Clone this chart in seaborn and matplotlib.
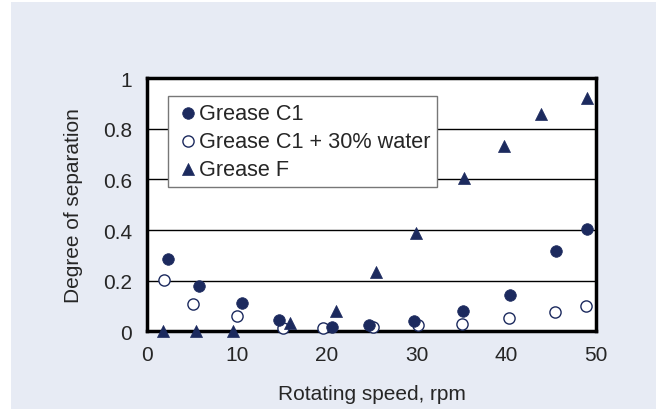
import matplotlib
matplotlib.use("Agg")
import matplotlib.pyplot as plt
import seaborn as sns
import pandas as pd
from matplotlib.patches import Rectangle

# Data
c1_speed = [2.3, 5.8, 10.6, 14.7, 20.6, 24.7, 29.7, 35.2, 40.4, 45.6, 49.0]
c1_sep = [0.286, 0.178, 0.113, 0.044, 0.019, 0.025, 0.041, 0.082, 0.144, 0.318, 0.405]

c1w_speed = [1.9, 5.1, 10.0, 15.1, 19.6, 25.1, 30.2, 35.1, 40.3, 45.4, 48.9]
c1w_sep = [0.202, 0.110, 0.060, 0.012, 0.012, 0.019, 0.025, 0.031, 0.054, 0.078, 0.102]

f_speed = [1.8, 5.4, 9.5, 15.9, 21.0, 25.5, 30.0, 35.3, 39.7, 43.9, 49.0]
f_sep = [0.0, 0.0, 0.0, 0.033, 0.079, 0.233, 0.387, 0.604, 0.733, 0.858, 0.923]

labels = ["Grease C1", "Grease C1 + 30% water", "Grease F"]
x_ticks = [0, 10, 20, 30, 40, 50]
y_ticks = [0, 0.2, 0.4, 0.6, 0.8, 1]
y_ticklabels = ["0", "0.2", "0.4", "0.6", "0.8", "1"]

navy = "#1c2a5e"
bg = "#e7ebf4"
FS = 15

sns.set_style("white")
plt.rcParams["font.family"] = ["Liberation Sans", "DejaVu Sans"]

fig = plt.figure(figsize=(6.56, 4.10), dpi=100)
fig.patch.set_facecolor("white")
fig.patches.append(Rectangle((11 / 656, 0), 1 - 11 / 656, 1 - 3 / 410,
                             transform=fig.transFigure, facecolor=bg,
                             edgecolor="none", zorder=-10))

ax = fig.add_axes([0.2245, 0.1893, 0.684, 0.618])
ax.set_facecolor("white")

df_c1 = pd.DataFrame({"speed": c1_speed, "sep": c1_sep})
df_c1w = pd.DataFrame({"speed": c1w_speed, "sep": c1w_sep})
df_f = pd.DataFrame({"speed": f_speed, "sep": f_sep})

sns.scatterplot(data=df_c1, x="speed", y="sep", ax=ax, marker="o", s=70,
                color=navy, edgecolor=navy, linewidth=0.5, label=labels[0],
                clip_on=False, zorder=4)
sns.scatterplot(data=df_c1w, x="speed", y="sep", ax=ax, marker="o", s=65,
                facecolor="white", edgecolor=navy, linewidth=1.0,
                label=labels[1], clip_on=False, zorder=3)
sns.scatterplot(data=df_f, x="speed", y="sep", ax=ax, marker="^", s=75,
                color=navy, edgecolor=navy, linewidth=0.5, label=labels[2],
                clip_on=False, zorder=4)

ax.set_xlim(0, 50)
ax.set_ylim(0, 1)
ax.set_xticks(x_ticks)
ax.set_yticks(y_ticks)
ax.set_yticklabels(y_ticklabels)
ax.tick_params(axis="x", direction="in", length=5, width=1, color="#555555",
               labelsize=FS, pad=10)
ax.tick_params(axis="y", length=0, labelsize=FS, pad=11)
ax.yaxis.grid(True, color="black", linewidth=1.0)
ax.xaxis.grid(False)
ax.set_axisbelow(True)

for sp in ax.spines.values():
    sp.set_visible(True)
    sp.set_color("black")
    sp.set_linewidth(2.5)

ax.set_xlabel("Rotating speed, rpm", fontsize=FS, labelpad=14)
ax.set_ylabel("Degree of separation", fontsize=FS, labelpad=14)

leg = ax.legend(loc="upper left", bbox_to_anchor=(0.047, 0.928), frameon=True,
                fancybox=False, fontsize=15.6, handletextpad=-0.1,
                borderpad=0.3, labelspacing=0.33, handlelength=1.2,
                borderaxespad=0)
leg.get_frame().set_edgecolor("#777777")
leg.get_frame().set_linewidth(1.0)
leg.get_frame().set_alpha(1)

fig.savefig("out.png", dpi=100, facecolor=fig.get_facecolor())
